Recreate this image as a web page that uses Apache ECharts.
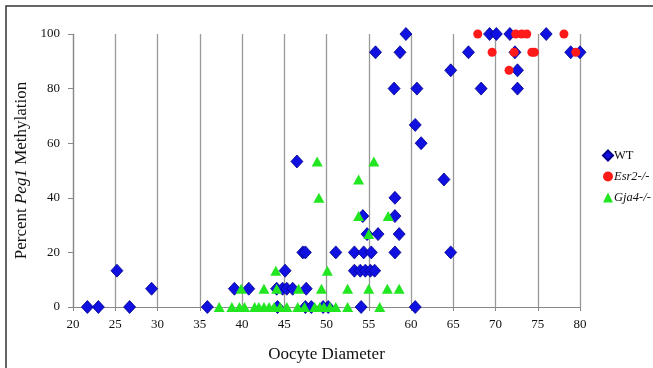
<!DOCTYPE html>
<html>
<head>
<meta charset="utf-8">
<script src="https://cdn.jsdelivr.net/npm/echarts@6/dist/echarts.min.js"></script>
<style>
  html, body { margin: 0; padding: 0; background: #fff; }
  #main { width: 653px; height: 368px; }
</style>
</head>
<body>
<div id="main"></div>
<script>
// oocyte diameter / percent methylation
const wtPoints = [
  [21.7, 0], [23.0, 0], [26.7, 0], [35.9, 0], [44.2, 0], [47.5, 0], [48.2, 0], [49.6, 0], [50.2, 0], [54.1, 0], [60.5, 0],
  [29.3, 6.7], [39.1, 6.7], [40.8, 6.7], [44.1, 6.7], [44.8, 6.7], [45.3, 6.7], [46.0, 6.7], [47.6, 6.7],
  [25.2, 13.3], [45.1, 13.3], [53.3, 13.3], [54.0, 13.3], [54.6, 13.3], [55.2, 13.3], [55.7, 13.3],
  [47.2, 20], [47.5, 20], [51.1, 20], [53.3, 20], [54.4, 20], [55.3, 20], [58.1, 20], [64.7, 20],
  [54.8, 26.7], [56.1, 26.7], [58.6, 26.7],
  [54.3, 33.3], [58.1, 33.3],
  [58.1, 40],
  [63.9, 46.7],
  [46.5, 53.3],
  [61.2, 60],
  [60.5, 66.7],
  [58.0, 80], [60.7, 80], [68.3, 80], [72.6, 80],
  [64.7, 86.7], [72.6, 86.7],
  [55.8, 93.3], [58.7, 93.3], [66.8, 93.3], [72.3, 93.3], [78.9, 93.3], [80.0, 93.3],
  [59.4, 100], [69.3, 100], [70.1, 100], [71.7, 100], [76.0, 100]
];

const esr2Points = [
  [67.9, 100], [72.4, 100], [73.1, 100], [73.7, 100], [78.1, 100],
  [69.6, 93.3], [72.2, 93.3], [74.3, 93.3], [74.6, 93.3], [79.5, 93.3],
  [71.6, 86.7]
];

const gja4Points = [
  [37.3, 0], [38.8, 0], [39.7, 0], [40.3, 0], [41.5, 0], [42.0, 0], [42.6, 0], [43.2, 0], [43.8, 0], [44.5, 0],
  [45.3, 0], [46.6, 0], [47.4, 0], [48.6, 0], [49.2, 0], [49.7, 0], [50.4, 0], [51.1, 0], [52.5, 0], [56.3, 0],
  [39.9, 6.7], [42.6, 6.7], [44.1, 6.7], [46.7, 6.7], [49.4, 6.7], [52.5, 6.7], [55.0, 6.7], [57.2, 6.7], [58.6, 6.7],
  [44.0, 13.3], [50.1, 13.3],
  [55.0, 26.7],
  [53.8, 33.3], [57.3, 33.3],
  [49.1, 40],
  [53.8, 46.7],
  [48.9, 53.3], [55.6, 53.3]
];

const seriesNames = ['WT', 'Esr2-/-', 'Gja4-/-'];

var chartDom = document.getElementById('main');
var myChart = echarts.init(chartDom);

const serif = 'Liberation Serif, Times New Roman, serif';

var option = {
  animation: false,
  textStyle: { fontFamily: serif },
  graphic: [
    {
      type: 'polyline',
      shape: { points: [[6, 368], [6, 6], [653, 6]] },
      style: { stroke: '#333', lineWidth: 1.5, fill: null }
    }
  ],
  grid: { left: 73, right: 73, top: 34, bottom: 57 },
  legend: {
    orient: 'vertical',
    left: 597,
    top: 144,
    itemWidth: 10,
    itemHeight: 10,
    itemGap: 8,
    data: [
      { name: seriesNames[0], icon: 'diamond' },
      { name: seriesNames[1], icon: 'circle' },
      { name: seriesNames[2], icon: 'triangle' }
    ],
    formatter: function (name) {
      return name === 'WT' ? '{n|' + name + '}' : '{i|' + name + '}';
    },
    textStyle: {
      fontFamily: serif,
      fontSize: 12,
      color: '#111',
      padding: [0, 0, 0, -4],
      rich: {
        n: { fontFamily: serif, fontSize: 12.5, color: '#111' },
        i: { fontFamily: serif, fontSize: 12.5, color: '#111', fontStyle: 'italic' }
      }
    }
  },
  xAxis: {
    type: 'value',
    min: 20,
    max: 80,
    interval: 5,
    name: 'Oocyte Diameter',
    nameLocation: 'middle',
    nameGap: 39,
    nameTextStyle: { fontFamily: serif, fontSize: 17, color: '#111' },
    axisLine: { show: true, lineStyle: { color: '#888', width: 1.2 } },
    axisTick: { show: true, length: 4, lineStyle: { color: '#888' } },
    axisLabel: { fontFamily: serif, fontSize: 13, color: '#111', margin: 11 },
    splitLine: { show: true, lineStyle: { color: '#999', width: 1.3 } }
  },
  yAxis: {
    type: 'value',
    min: 0,
    max: 100,
    interval: 20,
    name: '{n|Percent }{i|Peg1}{n| Methylation}',
    nameLocation: 'middle',
    nameGap: 42,
    nameTextStyle: {
      fontFamily: serif,
      fontSize: 17,
      color: '#111',
      rich: {
        n: { fontFamily: serif, fontSize: 17, color: '#111' },
        i: { fontFamily: serif, fontSize: 17, color: '#111', fontStyle: 'italic' }
      }
    },
    axisLine: { show: true, lineStyle: { color: '#888', width: 1.2 } },
    axisTick: { show: true, length: 5, lineStyle: { color: '#888' } },
    axisLabel: { fontFamily: serif, fontSize: 13, color: '#111', margin: 13 },
    splitLine: { show: false }
  },
  series: [
    {
      name: seriesNames[0],
      type: 'scatter',
      symbol: 'diamond',
      symbolSize: [12, 13],
      clip: false,
      z: 3,
      itemStyle: { color: '#1010e0', borderColor: '#00008a', borderWidth: 0.8, opacity: 1 },
      data: wtPoints
    },
    {
      name: seriesNames[1],
      type: 'scatter',
      symbol: 'circle',
      symbolSize: 9,
      clip: false,
      z: 4,
      itemStyle: { color: '#ff1a1a', opacity: 1 },
      data: esr2Points
    },
    {
      name: seriesNames[2],
      type: 'scatter',
      symbol: 'triangle',
      symbolSize: [11, 10],
      clip: false,
      z: 4,
      itemStyle: { color: '#22e622', opacity: 1 },
      data: gja4Points
    }
  ]
};

myChart.setOption(option, true);
</script>
</body>
</html>
